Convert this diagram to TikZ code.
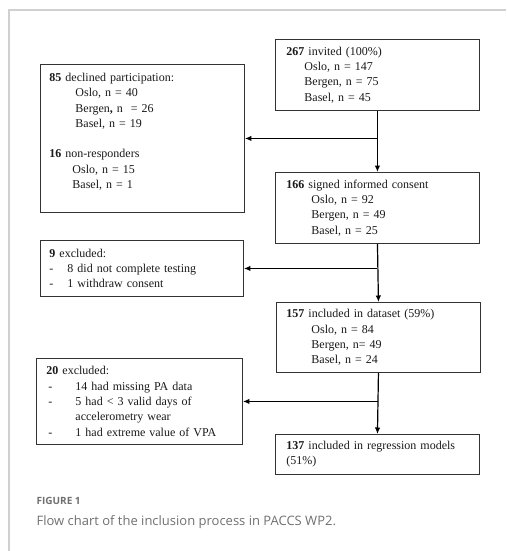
\documentclass[tikz,border=0pt]{standalone}
\usepackage{fontspec}
\setmainfont{Liberation Serif}
\newfontfamily\capfont{Open Sans}
\usepackage{tikz}
\usetikzlibrary{arrows.meta}
\definecolor{framegray}{HTML}{D0D0D0}
\definecolor{capgray}{HTML}{707070}
\tikzstyle{box_n} = [rectangle, draw=black!80, line width=0.9pt, anchor=north west, align=left, inner xsep=10pt, inner ysep=0pt, text width=184pt, text=black!90, font=\fontsize{12}{15.3}\selectfont]
\tikzstyle{cap_t} = [anchor=west, inner sep=0pt, text=capgray]

\begin{document}
\begin{tikzpicture}[x=1pt,y=-1pt,->,>={Latex[length=6.5pt,width=5.5pt]},line width=1.2pt]
\useasboundingbox (0,0) rectangle (506,551);
\draw[-, framegray, line width=2pt] (506,10) -- (8.5,10) -- (8.5,551);

% right column
\node [box_n, minimum height=71pt, inner xsep=11pt, text width=182pt] (invited) at (275,39)
    {\textbf{267} invited (100\%)\\
     \hspace*{18pt}Oslo, n = 147\\
     \hspace*{18pt}Bergen, n = 75\\
     \hspace*{18pt}Basel, n = 45};
\node [box_n, minimum height=71pt, inner xsep=11pt, text width=182pt] (signed) at (275,172)
    {\textbf{166} signed informed consent\\
     \hspace*{25pt}Oslo, n = 92\\
     \hspace*{25pt}Bergen, n = 49\\
     \hspace*{25pt}Basel, n = 25};
\node [box_n, minimum height=70pt, inner xsep=10pt, text width=184pt] (dataset) at (276,302)
    {\textbf{157} included in dataset (59\%)\\
     \hspace*{25pt}Oslo, n = 84\\
     \hspace*{25pt}Bergen, n= 49\\
     \hspace*{25pt}Basel, n = 24};
\node [box_n, minimum height=40pt, inner xsep=11pt, text width=182pt] (regr) at (275,434)
    {\textbf{137} included in regression models\\
     (51\%)};

% left column
\node [box_n, minimum height=148pt, inner xsep=9pt, text width=186pt] (declined) at (40,64)
    {\textbf{85} declined participation:\\
     \hspace*{26pt}Oslo, n = 40\\
     \hspace*{26pt}Bergen\textbf{,} n~ = 26\\
     \hspace*{26pt}Basel, n = 19\\[15.3pt]
     \textbf{16} non-responders\\
     \hspace*{23pt}Oslo, n = 15\\
     \hspace*{23pt}Basel, n = 1\\
     \mbox{}};
\node [box_n, minimum height=56pt, inner xsep=9pt, text width=185pt] (excl9) at (40,240)
    {\textbf{9} excluded:\\
     \makebox[18pt][l]{-}8 did not complete testing\\
     \makebox[18pt][l]{-}1 withdraw consent};
\node [box_n, minimum height=86pt, inner xsep=10pt, text width=186pt] (excl20) at (36,358)
    {\textbf{20} excluded:\\
     \makebox[29pt][l]{\hspace*{2pt}-}14 had missing PA data\\
     \makebox[29pt][l]{\hspace*{2pt}-}5 had < 3 valid days of\\
     \hspace*{29pt}accelerometry wear\\
     \makebox[29pt][l]{\hspace*{2pt}-}1 had extreme value of VPA};

% connectors
\draw (invited.south) -- (signed.north);
\draw (invited.south |- declined.east) -- (declined.east);
\draw (signed.south) -- (dataset.north);
\draw (signed.south |- excl9.east) -- (excl9.east);
\draw (dataset.south) -- (regr.north);
\draw (dataset.south |- excl20.east) -- (excl20.east);

% caption
\node [cap_t, font=\capfont\bfseries\fontsize{10}{12}\selectfont] (figno) at (36,501) {FIGURE 1};
\node [cap_t, font=\capfont\fontsize{13}{15}\selectfont] (figcap) at (36,522)
    {Flow chart of the inclusion process in PACCS WP2.};
\end{tikzpicture}
\end{document}
